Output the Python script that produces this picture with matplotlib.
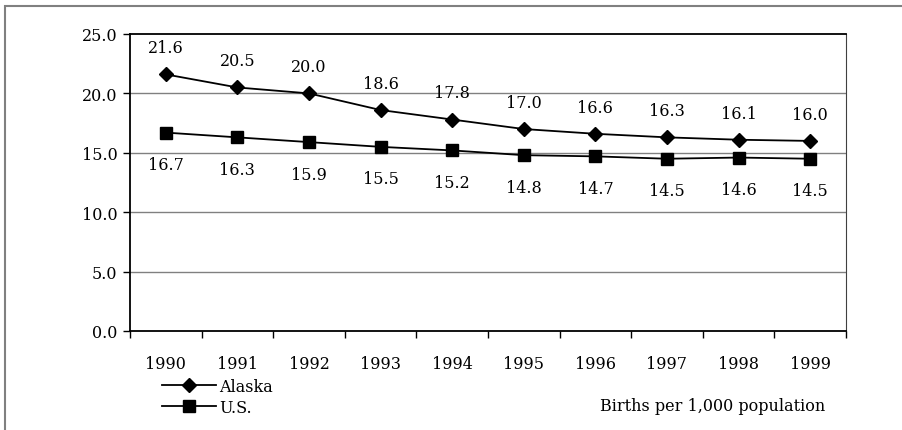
import matplotlib.pyplot as plt
from matplotlib.patches import Rectangle
from matplotlib.lines import Line2D

years = ['1990', '1991', '1992', '1993', '1994', '1995', '1996', '1997', '1998', '1999']
alaska = [21.6, 20.5, 20.0, 18.6, 17.8, 17.0, 16.6, 16.3, 16.1, 16.0]
us = [16.7, 16.3, 15.9, 15.5, 15.2, 14.8, 14.7, 14.5, 14.6, 14.5]

plt.rcParams['font.family'] = ['DejaVu Serif']
fs = 11.5

W, H = 903, 431
fig = plt.figure(figsize=(W / 100, H / 100), dpi=100)

# outer gray frame (cut off at right and bottom)
fig.patches.append(Rectangle((5 / W, -0.1), 1.2, (H - 7) / H + 0.1, transform=fig.transFigure,
                             fill=False, edgecolor='#808080', lw=1.5))

left, right, top, bottom = 130, 846, 35, 332
ax = fig.add_axes([left / W, 1 - bottom / H, (right - left) / W, (bottom - top) / H])

x = list(range(len(years)))
ax.plot(x, alaska, color='black', lw=1.3, marker='D', markersize=7, zorder=3)
ax.plot(x, us, color='black', lw=1.3, marker='s', markersize=9, zorder=3)

for i in x:
    ax.annotate(f'{alaska[i]:.1f}', (i, alaska[i]), xytext=(0, 13), textcoords='offset points',
                ha='center', va='bottom', fontsize=fs)
    ax.annotate(f'{us[i]:.1f}', (i, us[i]), xytext=(0, -17), textcoords='offset points',
                ha='center', va='top', fontsize=fs)

ax.set_xlim(-0.5, len(years) - 0.5)
ax.set_ylim(0, 25)
ax.set_yticks([0, 5, 10, 15, 20, 25])
ax.set_yticklabels([f'{v:.1f}' for v in [0, 5, 10, 15, 20, 25]])
ax.set_xticks([i - 0.5 for i in range(len(years) + 1)])
ax.set_xticklabels([])
ax.set_xticks(x, minor=True)
ax.set_xticklabels(years, minor=True)
ax.tick_params(axis='x', which='minor', length=0, pad=17, labelsize=fs)
ax.tick_params(axis='x', which='major', length=5, width=1, direction='out')
ax.tick_params(axis='y', length=5, width=1, direction='out', pad=4, labelsize=fs)

for v in [5, 10, 15, 20]:
    ax.axhline(v, color='#808080', lw=1, zorder=1)

ax.spines['left'].set_linewidth(1.3)
ax.spines['bottom'].set_linewidth(1.3)
ax.spines['top'].set_linewidth(1.3)
ax.spines['right'].set_linewidth(0.8)
ax.spines['right'].set_color('#404040')

handles = [Line2D([], [], color='black', lw=1.3, marker='D', markersize=7),
           Line2D([], [], color='black', lw=1.3, marker='s', markersize=9)]
fig.legend(handles, ['Alaska', 'U.S.'], loc='upper left', bbox_to_anchor=(162 / W, 1 - 379 / H),
           frameon=False, fontsize=fs, handlelength=3.4, handletextpad=0.2,
           labelspacing=0.25, borderpad=0, borderaxespad=0)

fig.text(825 / W, 1 - 407 / H, 'Births per 1,000 population', ha='right', va='center', fontsize=fs)

fig.savefig('out.png', dpi=100)
